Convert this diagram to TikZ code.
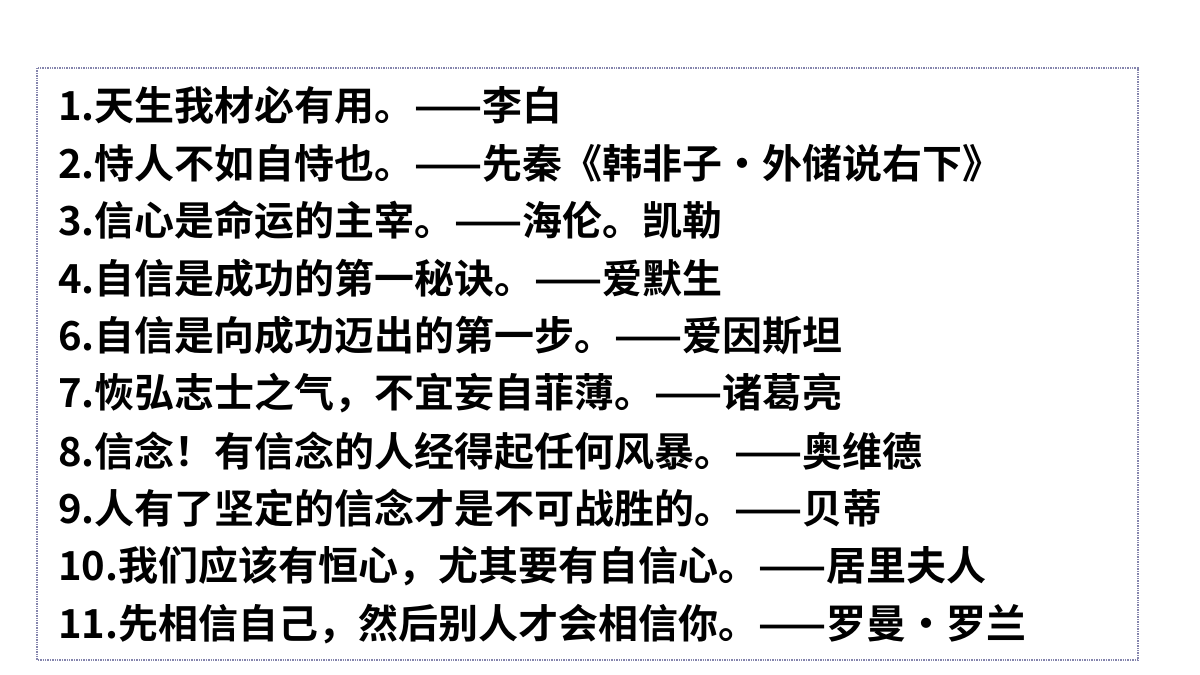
\documentclass[tikz,border=0pt]{standalone}
\usepackage{fontspec}
\newfontfamily\cjk{Noto Sans CJK SC Bold}
\begin{document}
\begin{tikzpicture}[x=1pt,y=-1pt,
  quote/.style={anchor=west,inner sep=0pt,font=\cjk\fontsize{40}{40}\selectfont}]
\useasboundingbox (0,0) rectangle (1200,675);
\draw[blue!20!gray!80,densely dotted,line width=1.4pt] (37,68) rectangle (1138,660);
\node[quote] (l1) at (58,105) {1.天生我材必有用。——李白};
\node[quote] (l2) at (58,163) {2.恃人不如自恃也。——先秦《韩非子•外储说右下》};
\node[quote] (l3) at (58,220) {3.信心是命运的主宰。——海伦。凯勒};
\node[quote] (l4) at (58,278) {4.自信是成功的第一秘诀。——爱默生};
\node[quote] (l5) at (58,336) {6.自信是向成功迈出的第一步。——爱因斯坦};
\node[quote] (l6) at (58,393) {7.恢弘志士之气，不宜妄自菲薄。——诸葛亮};
\node[quote] (l7) at (58,451) {8.信念！有信念的人经得起任何风暴。——奥维德};
\node[quote] (l8) at (58,508) {9.人有了坚定的信念才是不可战胜的。——贝蒂};
\node[quote] (l9) at (58,566) {10.我们应该有恒心，尤其要有自信心。——居里夫人};
\node[quote] (l10) at (58,624) {11.先相信自己，然后别人才会相信你。——罗曼•罗兰};
\end{tikzpicture}
\end{document}
